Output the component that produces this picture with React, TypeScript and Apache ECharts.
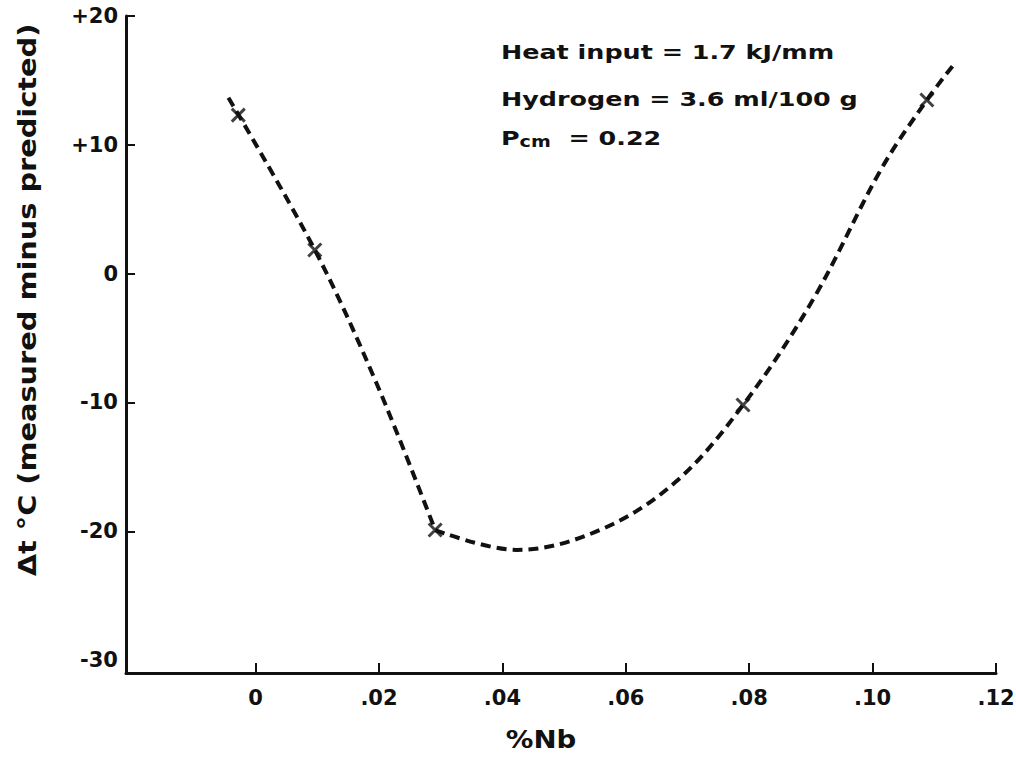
import React, { useEffect, useRef } from "react";
import * as echarts from "echarts";

const xTickValues = [0, 0.02, 0.04, 0.06, 0.08, 0.1, 0.12];
const yLabelValues = [20, 10, 0, -10, -20, -30];
const yTickValues = [20, 10, 0, -10, -20];

// measured points (x marks)
const markPoints: [number, number][] = [
  [-0.0028, 12.31],
  [0.0096, 1.84],
  [0.0291, -19.9],
  [0.079, -10.2],
  [0.1088, 13.48],
];

// dashed curve, left branch (down to the minimum corner)
const curveLeft: [number, number][] = [
  [-0.0044, 13.66],
  [0.0096, 1.84],
  [0.0196, -8.51],
  [0.0291, -19.9],
];

// dashed curve, right branch
const curveRight: [number, number][] = [
  [0.0291, -19.9],
  [0.0423, -21.45],
  [0.0558, -19.9],
  [0.068, -16.2],
  [0.079, -10.2],
  [0.0903, -2.05],
  [0.1015, 8.2],
  [0.1088, 13.48],
  [0.1131, 16.2],
];

const notes = ["Heat input = 1.7 kJ/mm", "Hydrogen = 3.6 ml/100 g"];
const yName = "\u0394t \u00B0C (measured minus predicted)";
const xName = "%Nb";

const INK = "#111111";
const FONT = "DejaVu Sans";

export default function App() {
  const ref = useRef<HTMLDivElement>(null);
  useEffect(() => {
    if (!ref.current) return;
    const chart = echarts.init(ref.current, null, { renderer: "svg" });
    const dashed = {
      type: "line",
      smooth: 0.35,
      showSymbol: false,
      symbol: "none",
      lineStyle: { color: INK, width: 4, type: [10, 6], cap: "butt" },
      z: 2,
    };
    const noteStyle = (text: string) => ({
      text,
      fill: INK,
      font: `bold 20px "${FONT}"`,
      align: "left",
      verticalAlign: "middle",
    });
    chart.setOption({
      animation: false,
      backgroundColor: "#ffffff",
      grid: { left: 126, right: 20, top: 16, bottom: 84, outerBoundsMode: "none" },
      xAxis: {
        type: "value",
        min: -0.021,
        max: 0.12,
        splitLine: { show: false },
        axisLine: { show: true, onZero: false, lineStyle: { color: INK, width: 3 } },
        axisTick: {
          show: true,
          inside: true,
          length: 10,
          customValues: xTickValues,
          lineStyle: { color: INK, width: 2 },
        },
        axisLabel: {
          customValues: xTickValues,
          margin: 14,
          color: INK,
          fontFamily: FONT,
          fontWeight: "bold",
          fontSize: 21,
          formatter: (v: number) => (v === 0 ? "0" : v.toFixed(2).replace(/^0/, "")),
        },
      },
      yAxis: {
        type: "value",
        min: -31,
        max: 20,
        splitLine: { show: false },
        axisLine: { show: true, onZero: false, lineStyle: { color: INK, width: 3 } },
        axisTick: {
          show: true,
          inside: true,
          length: 9,
          customValues: yTickValues,
          lineStyle: { color: INK, width: 2 },
        },
        axisLabel: {
          customValues: yLabelValues,
          margin: 8,
          color: INK,
          fontFamily: FONT,
          fontWeight: "bold",
          fontSize: 21,
          formatter: (v: number) => (v > 0 ? "+" + v : String(v)),
        },
      },
      series: [
        { ...dashed, data: curveLeft },
        { ...dashed, data: curveRight },
        {
          type: "scatter",
          data: markPoints,
          symbol: "path://M0,0L10,10M10,0L0,10",
          symbolSize: 13,
          itemStyle: { color: "none", borderColor: INK, borderWidth: 3 },
          z: 3,
        },
      ],
      graphic: [
        {
          type: "text",
          x: 27,
          y: 300,
          rotation: Math.PI / 2,
          scaleX: 1.2,
          style: {
            text: yName,
            fill: INK,
            font: `bold 24px "${FONT}"`,
            align: "center",
            verticalAlign: "middle",
          },
        },
        {
          type: "text",
          x: 541,
          y: 740,
          scaleX: 1.15,
          style: {
            text: xName,
            fill: INK,
            font: `bold 24px "${FONT}"`,
            align: "center",
            verticalAlign: "middle",
          },
        },
        { type: "text", x: 501, y: 52, scaleX: 1.27, style: noteStyle(notes[0]) },
        { type: "text", x: 501, y: 99, scaleX: 1.27, style: noteStyle(notes[1]) },
        {
          type: "text",
          x: 501,
          y: 138,
          scaleX: 1.27,
          style: {
            text: "{p|P}{s|cm}{e|  = 0.22}",
            fill: INK,
            align: "left",
            verticalAlign: "middle",
            rich: {
              p: { font: `bold 20px "${FONT}"`, fill: INK },
              s: { font: `bold 15px "${FONT}"`, fill: INK, padding: [8, 0, 0, 0] },
              e: { font: `bold 20px "${FONT}"`, fill: INK },
            },
          },
        },
      ],
    });
    return () => chart.dispose();
  }, []);
  return (
    <div
      ref={ref}
      style={{ position: "fixed", left: 0, top: 0, width: 1016, height: 757, background: "#fff" }}
    />
  );
}
